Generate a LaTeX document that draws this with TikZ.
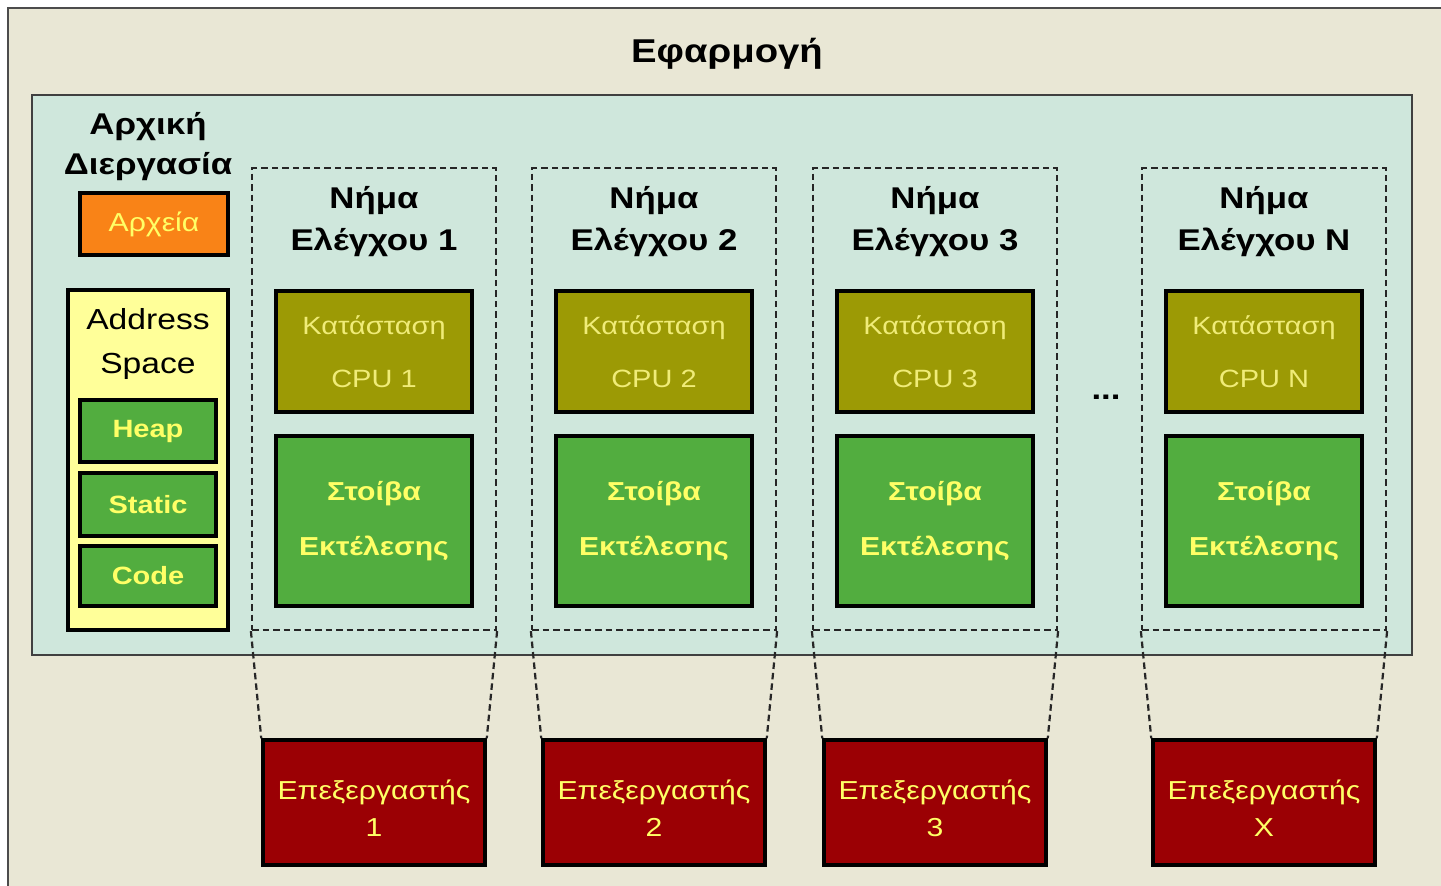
\documentclass[tikz,border=0pt]{standalone}
\usepackage{fontspec}
\setmainfont{Liberation Sans}[FakeStretch=1.16]
\definecolor{bgbeige}{HTML}{E9E7D5}
\definecolor{panelteal}{HTML}{CFE7DC}
\definecolor{fileorange}{HTML}{F98317}
\definecolor{addryellow}{HTML}{FFFF99}
\definecolor{segreen}{HTML}{52AD3F}
\definecolor{cpuolive}{HTML}{9C9A05}
\definecolor{procred}{HTML}{9B0004}
\definecolor{txtyellow}{HTML}{FFFF66}
\definecolor{paleyellow}{HTML}{F0EC78}
\tikzset{
  heading/.style={font=\bfseries\fontsize{30}{42}\selectfont, align=center, text=black, inner sep=0pt},
  solidbox/.style={draw=black, line width=3.5pt, inner sep=0pt, align=center},
  memseg/.style={solidbox, fill=segreen, text=txtyellow, font=\bfseries\fontsize{25}{30}\selectfont,
    minimum width=136pt},
  cpubox/.style={solidbox, fill=cpuolive, text=paleyellow, font=\fontsize{25}{53}\selectfont,
    minimum width=196pt, minimum height=121pt},
  stackbox/.style={solidbox, fill=segreen, text=txtyellow, font=\bfseries\fontsize{26}{55}\selectfont,
    minimum width=196pt, minimum height=170pt},
  procbox/.style={solidbox, fill=procred, text=txtyellow, font=\fontsize{26}{37}\selectfont,
    text height=68pt, text depth=0pt, minimum width=222pt, minimum height=125pt},
  threadbox/.style={draw=black!85, line width=2.2pt, dash pattern=on 6.5pt off 4pt, inner sep=0pt,
    minimum width=244pt, minimum height=462pt},
  dashline/.style={draw=black!85, line width=2.2pt, dash pattern=on 6.5pt off 4pt},
}
\begin{document}
\begin{tikzpicture}[x=1pt,y=-1pt]
  \clip (0,0) rectangle (1441,886);
  \fill[white] (0,0) rectangle (1441,886);
  % application frame, open towards the right and bottom
  \draw[fill=bgbeige, draw=black!70, line width=2.5pt] (8,8) rectangle (1480,930);
  \node[heading, font=\bfseries\fontsize{33}{40}\selectfont] (app) at (727,54) {Εφαρμογή};

  % process area
  \node[draw=black!75, line width=1.5pt, fill=panelteal, minimum width=1380pt, minimum height=560pt,
    inner sep=0pt] (proc) at (722,375) {};

  % initial process: files and address space
  \node[heading, font=\bfseries\fontsize{30}{40}\selectfont] (init) at (148,147) {Αρχική\\Διεργασία};
  \node[solidbox, fill=fileorange, text=txtyellow, font=\fontsize{26}{30}\selectfont,
    minimum width=148pt, minimum height=62pt] (files) at (154,224) {Αρχεία};
  \node[solidbox, fill=addryellow, minimum width=160pt, minimum height=340pt] (addr) at (148,460) {};
  \node[font=\fontsize{29}{44}\selectfont, align=center, inner sep=0pt] (addrlbl) at (148,344) {Address\\Space};
  \node[memseg, minimum height=62pt] (heap) at (148,431) {Heap};
  \node[memseg, minimum height=63pt] (static) at (148,504.5) {Static};
  \node[memseg, minimum height=60pt] (code) at (148,576) {Code};

  % threads and the processors they run on
  \foreach \k/\x/\t/\p in {1/252/1/1,2/532/2/2,3/813/3/3,4/1142/N/X}{
    \node[threadbox] (th\k) at (\x+122,399) {};
    \node[heading] (tt\k) at (\x+122,222) {Νήμα\\Ελέγχου \t};
    \node[cpubox] (cpu\k) at (\x+122,351.5) {Κατάσταση\\CPU \t};
    \node[stackbox] (st\k) at (\x+122,521) {Στοίβα\\Εκτέλεσης};
    \node[procbox] (pr\k) at (\x+122,802.5) {Επεξεργαστής\\\p};
    \draw[dashline] (th\k.south west) -- (pr\k.north west);
    \draw[dashline] (th\k.south east) -- (pr\k.north east);
  }
  \node[font=\bfseries\fontsize{30}{36}\selectfont, inner sep=0pt] (dots) at (1106,397) {...};
\end{tikzpicture}
\end{document}
